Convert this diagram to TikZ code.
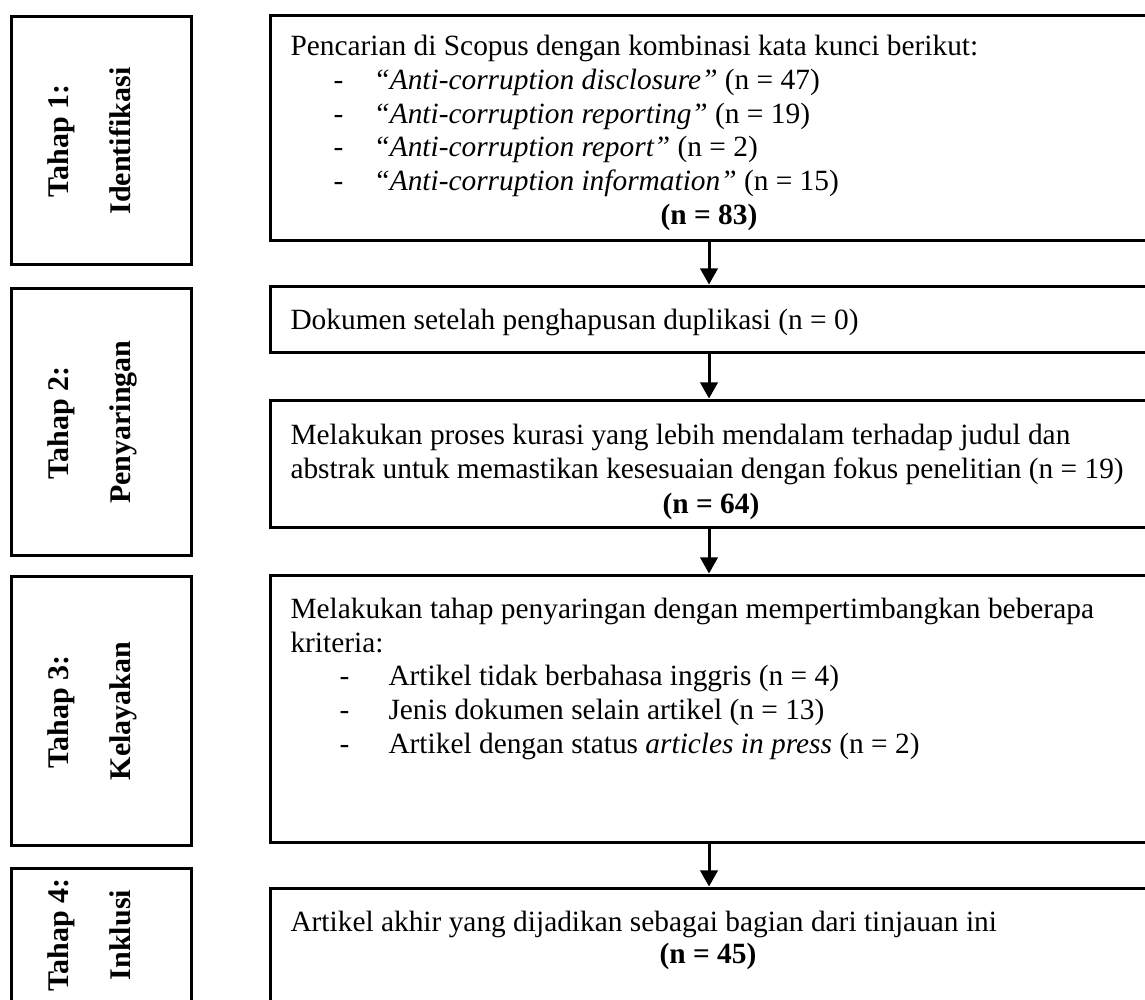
\documentclass[tikz,border=0pt]{standalone}
\usepackage{fontspec}
\setmainfont{Liberation Serif}
\usetikzlibrary{arrows.meta}

\newcommand{\keyitem}[1]{\makebox[33.2pt][l]{\hspace*{17.2pt}-}\textit{“#1”}}
\newcommand{\critem}[1]{\makebox[39.2pt][l]{\hspace*{19.6pt}-}#1}

\begin{document}
\begin{tikzpicture}[font=\fontsize{11.75}{13.44}\selectfont, x=0.4pt, y=-0.4pt]
%% coordinates are given in pixels of the original figure (y grows downwards)
%% multi-line texts are placed by the baseline of their last line
\tikzstyle{arc}=[-{Triangle[length=6.5pt,width=7pt]},line width=1.2pt]
\tikzstyle{stagebox}=[draw,line width=1.2pt,minimum width=72pt,inner sep=0pt]
\tikzstyle{stepbox}=[draw,line width=1.2pt,minimum width=350.4pt,inner sep=0pt]
\tikzstyle{stagelabel}=[font=\fontsize{12}{13.44}\selectfont\bfseries,rotate=90,anchor=base,inner sep=0pt]
\tikzstyle{boxtext}=[anchor=base west,align=left,inner sep=0pt]
\tikzstyle{count}=[font=\fontsize{11.75}{13.44}\selectfont\bfseries,anchor=base,inner sep=0pt]
\useasboundingbox (0,0) rectangle (1145,999);
\clip (0,0) rectangle (1145,999);
%% TikZ-figure elements %%
%% stage boxes on the left
\node[stagebox,minimum height=99.2pt] at (101.5,140.5) (S1) {};
\node[stagelabel] at (68,141) (S1a) {Tahap 1:};
\node[stagelabel] at (130,141) (S1b) {Identifikasi};
\node[stagebox,minimum height=106.8pt] at (101.5,422) (S2) {};
\node[stagelabel] at (68,423) (S2a) {Tahap 2:};
\node[stagelabel] at (130,422) (S2b) {Penyaringan};
\node[stagebox,minimum height=107.6pt] at (101.5,711) (S3) {};
\node[stagelabel] at (68,712) (S3a) {Tahap 3:};
\node[stagelabel] at (130,711) (S3b) {Kelayakan};
\node[stagebox,minimum height=53.2pt] at (101.5,935) (S4) {};
\node[stagelabel] at (68,935) (S4a) {Tahap 4:};
\node[stagelabel] at (130,935) (S4b) {Inklusi};
%% step boxes on the right
\node[stepbox,minimum height=89.6pt] at (709,128) (R1) {};
\node[boxtext] at (290,190.4) (R1text) {Pencarian di Scopus dengan kombinasi kata kunci berikut:\\
\keyitem{Anti-corruption disclosure} (n = 47)\\
\keyitem{Anti-corruption reporting} (n = 19)\\
\keyitem{Anti-corruption report} (n = 2)\\
\keyitem{Anti-corruption information} (n = 15)};
\node[count] at (709,224) (R1n) {(n = 83)};
\node[stepbox,minimum height=26.4pt] at (709,319) (R2) {};
\node[boxtext] at (290,329) (R2text) {Dokumen setelah penghapusan duplikasi (n = 0)};
\node[stepbox,minimum height=50.8pt] at (709,463.5) (R3) {};
\node[boxtext] at (290,478) (R3text) {Melakukan proses kurasi yang lebih mendalam terhadap judul dan\\
abstrak untuk memastikan kesesuaian dengan fokus penelitian (n = 19)};
\node[count] at (711,513) (R3n) {(n = 64)};
\node[stepbox,minimum height=106.8pt] at (709,708.5) (R4) {};
\node[boxtext] at (290,753) (R4text) {Melakukan tahap penyaringan dengan mempertimbangkan beberapa\\
kriteria:\\
\critem{Artikel tidak berbahasa inggris (n = 4)}\\
\critem{Jenis dokumen selain artikel (n = 13)}\\
\critem{Artikel dengan status \textit{articles in press} (n = 2)}};
\node[stepbox,minimum height=48.8pt] at (709,949) (R5) {};
\node[boxtext] at (290,931) (R5text) {Artikel akhir yang dijadikan sebagai bagian dari tinjauan ini};
\node[count] at (708,963) (R5n) {(n = 45)};
%% arrows between the steps
\draw[arc] (R1) to (R2);
\draw[arc] (R2) to (R3);
\draw[arc] (R3) to (R4);
\draw[arc] (R4) to (R5);
\end{tikzpicture}
\end{document}
